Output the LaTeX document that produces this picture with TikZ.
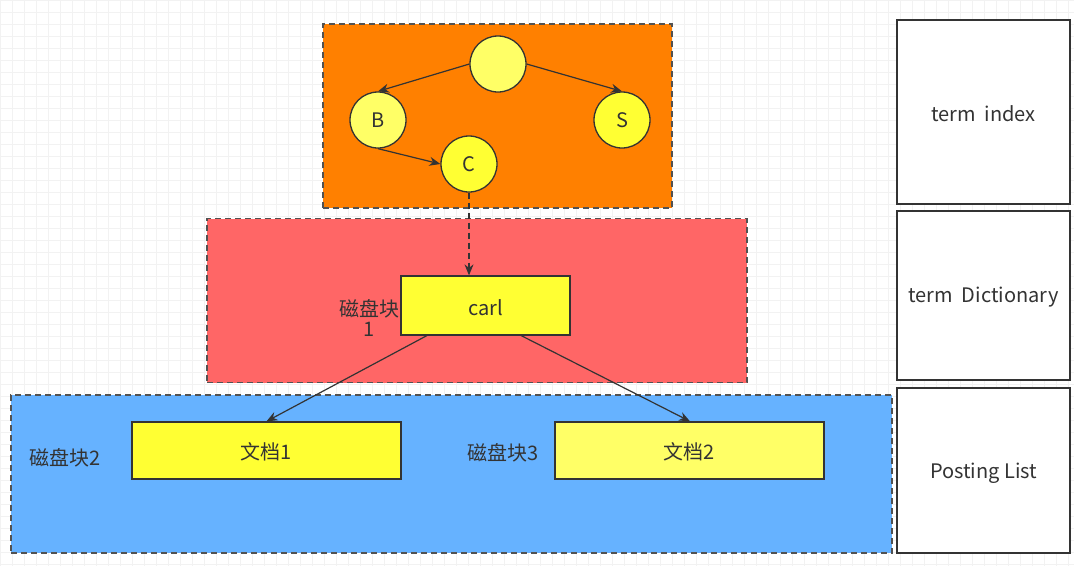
\documentclass[tikz,border=0pt]{standalone}
\usepackage{fontspec}
\setmainfont{Noto Sans CJK SC}
\usetikzlibrary{arrows.meta}
\definecolor{txt}{HTML}{333333}
\definecolor{edge}{HTML}{333333}
\definecolor{orangebg}{HTML}{FF8000}
\definecolor{redbg}{HTML}{FF6666}
\definecolor{bluebg}{HTML}{66B2FF}
\definecolor{yelA}{HTML}{FFFF33}
\definecolor{yelB}{HTML}{FFFF66}
\definecolor{gridc}{HTML}{F2F2F2}
\newcommand{\dfont}{\fontsize{20}{23}\selectfont}
\tikzset{
  layer/.style={draw=edge!85, line width=1.3pt, dash pattern=on 6pt off 4pt},
  tnode/.style={circle, draw=edge, line width=1.3pt, minimum size=56pt, inner sep=0pt, text=txt, font=\dfont, text depth=0pt},
  rbox/.style={draw=edge, line width=1.3pt, inner sep=0pt, text=txt, font=\dfont},
  sidebox/.style={draw=edge, line width=1.3pt, fill=white, inner sep=0pt, text=txt, font=\dfont},
  lbl/.style={text=txt, font=\dfont, inner sep=0pt},
  conn/.style={draw=edge, line width=1.2pt, -{Stealth[length=11pt,width=9pt]}},
}
\begin{document}
\begin{tikzpicture}[x=1pt,y=-1pt]
\useasboundingbox (0,0) rectangle (1074,566);
\fill[white] (0,0) rectangle (1074,566);
\foreach \gx in {0,12,...,1068} {\draw[gridc, line width=0.8pt] (\gx,0) -- (\gx,566);}
\foreach \gy in {0,12,...,564} {\draw[gridc, line width=0.8pt] (0,\gy) -- (1074,\gy);}
% layers
\node[layer, fill=orangebg, minimum width=349pt, minimum height=184pt, inner sep=0pt] (Lidx) at (497.5,116) {};
\node[layer, fill=redbg, minimum width=540pt, minimum height=164pt, inner sep=0pt] (Ldict) at (477,300.5) {};
\node[layer, fill=bluebg, minimum width=881pt, minimum height=158pt, inner sep=0pt] (Lpost) at (451.5,474) {};
% tree
\node[tnode, fill=yelB] (root) at (498,64) {};
\node[tnode, fill=yelB] (B) at (378,120) {B};
\node[tnode, fill=yelA] (S) at (622,120) {S};
\node[tnode, fill=yelA] (C) at (469,164) {C};
\draw[conn] (root.west) -- (B.north);
\draw[conn] (root.east) -- (S.north);
\draw[conn] (B.south) -- (C.west);
% dictionary
\node[rbox, fill=yelA, minimum width=169pt, minimum height=59pt] (carl) at (485.5,305.5) {};
\node[lbl] (carlt) at (485.5,307.5) {carl};
\node[lbl, align=center] (blk1) at (369,318) {磁盘块\\[-3pt]1};
\draw[conn, dash pattern=on 6pt off 4pt] (C.south) -- (C.south |- carl.north);
% postings
\node[rbox, fill=yelA, minimum width=269pt, minimum height=57pt] (doc1) at (266.5,450.5) {};
\node[rbox, fill=yelB, minimum width=269pt, minimum height=57pt] (doc2) at (689.5,450.5) {};
\node[lbl] (doc1t) at (266.5,452) {文档1};
\node[lbl] (doc2t) at (689.5,452) {文档2};
\node[lbl] (blk2) at (65,457.5) {磁盘块2};
\node[lbl] (blk3) at (503,452.5) {磁盘块3};
\coordinate (c1) at (428,335);
\coordinate (c2) at (520,335);
\draw[conn] (c1) -- (doc1.north);
\draw[conn] (c2) -- (doc2.north -| 690,0);
% side labels
\node[sidebox, minimum width=173pt, minimum height=184pt] (sIdx) at (983.5,112) {};
\node[sidebox, minimum width=173pt, minimum height=169pt] (sDict) at (983.5,295.5) {};
\node[sidebox, minimum width=173pt, minimum height=165pt] (sPost) at (983.5,470.5) {};
\node[lbl] (sIdxt) at (983.5,114) {term\ \ index};
\node[lbl] (sDictt) at (983.5,297.5) {term\ \ Dictionary};
\node[lbl] (sPostt) at (983.5,473) {Posting List};
\end{tikzpicture}
\end{document}
